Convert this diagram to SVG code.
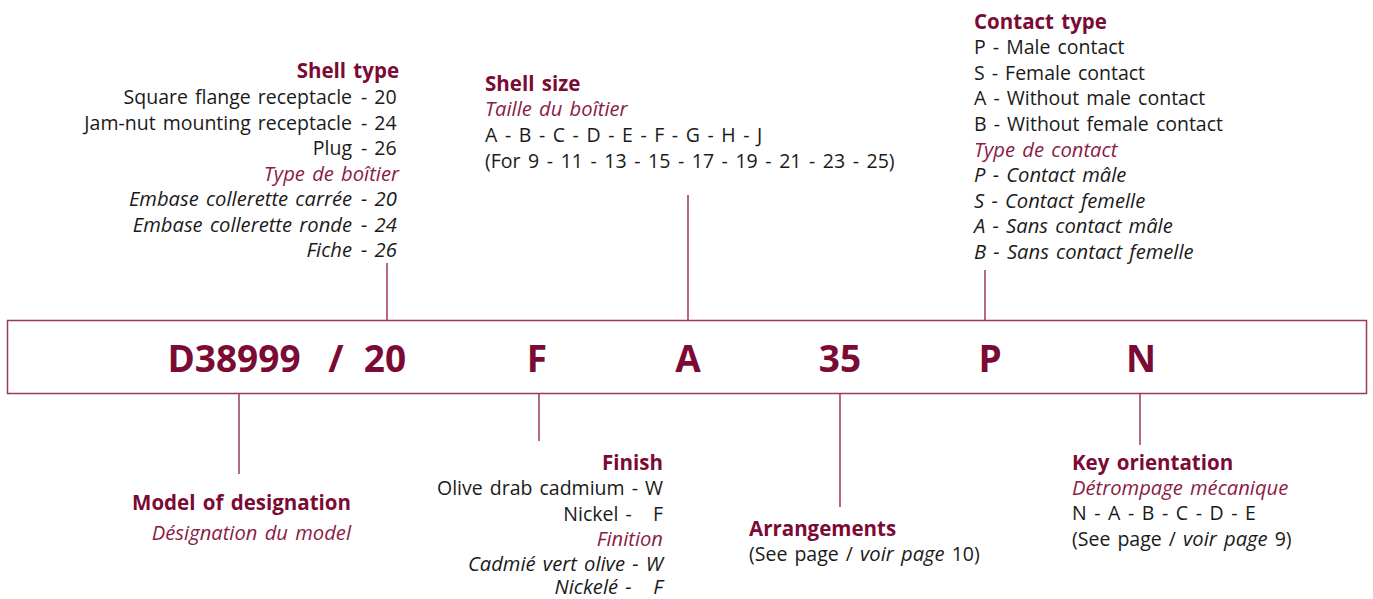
<svg xmlns="http://www.w3.org/2000/svg" width="1373" height="599" viewBox="0 0 1373 599">
<style>
text{font-family:"Open Sans","Noto Sans",sans-serif;font-size:19.5px;fill:#1a1a1a;word-spacing:2px}
.h{font-weight:bold;font-size:20.5px;fill:#7b0a35}
.fr{font-style:italic;font-size:20.2px;fill:#8a1c45}
.it{font-style:italic;font-size:20.2px}
.w{word-spacing:2.5px}
.code{font-weight:bold;font-size:37px;fill:#7b0a35;text-anchor:middle;word-spacing:0}
.e{text-anchor:end}
.ln{stroke:#8b1a40;stroke-width:1.3;fill:none}
</style>
<rect width="1373" height="599" fill="#fff"/>
<g id="connectors">
<line class="ln" x1="387" y1="263" x2="387" y2="320"/>
<line class="ln" x1="688" y1="195" x2="688" y2="320"/>
<line class="ln" x1="985" y1="270" x2="985" y2="320"/>
<line class="ln" x1="239" y1="394" x2="239" y2="474"/>
<line class="ln" x1="539" y1="394" x2="539" y2="441"/>
<line class="ln" x1="840" y1="394" x2="840" y2="507"/>
<line class="ln" x1="1140" y1="394" x2="1140" y2="445"/>
</g>
<g id="code-box">
<rect x="7.5" y="320.5" width="1359" height="73" fill="#fff" stroke="#9b3a5a" stroke-width="1.5"/>
<text class="code" x="234" y="372">D38999</text>
<text class="code" x="336" y="372">/</text>
<text class="code" x="385" y="372">20</text>
<text class="code" x="537" y="372">F</text>
<text class="code" x="688" y="372">A</text>
<text class="code" x="840" y="372">35</text>
<text class="code" x="990" y="372">P</text>
<text class="code" x="1141" y="372">N</text>
</g>
<g id="shell-type">
<text class="h e" x="399" y="78">Shell type</text>
<text class="e" x="352" y="104">Square flange receptacle</text><text x="361" y="104">- 20</text>
<text class="e" x="352" y="130">Jam-nut mounting receptacle</text><text x="361" y="130">- 24</text>
<text class="e" x="352" y="155">Plug</text><text x="361" y="155">- 26</text>
<text class="fr e" x="399" y="181">Type de boîtier</text>
<text class="it e" x="352" y="206">Embase collerette carrée</text><text class="it" x="361" y="206">- 20</text>
<text class="it e" x="352" y="232">Embase collerette ronde</text><text class="it" x="361" y="232">- 24</text>
<text class="it e" x="352" y="257">Fiche</text><text class="it" x="361" y="257">- 26</text>
</g>
<g id="shell-size">
<text class="h" x="485" y="91">Shell size</text>
<text class="fr" x="485" y="116">Taille du boîtier</text>
<text class="w" x="485" y="142">A - B - C - D - E - F - G - H - J</text>
<text class="w" x="485" y="168">(For 9 - 11 - 13 - 15 - 17 - 19 - 21 - 23 - 25)</text>
</g>
<g id="contact-type">
<text class="h" x="974" y="29">Contact type</text>
<text x="974" y="54">P - Male contact</text>
<text x="974" y="80">S - Female contact</text>
<text x="974" y="105">A - Without male contact</text>
<text x="974" y="131">B - Without female contact</text>
<text class="fr" x="974" y="157">Type de contact</text>
<text class="it" x="974" y="182">P - Contact mâle</text>
<text class="it" x="974" y="208">S - Contact femelle</text>
<text class="it" x="974" y="233">A - Sans contact mâle</text>
<text class="it" x="974" y="259">B - Sans contact femelle</text>
</g>
<g id="model-designation">
<text class="h e" x="351" y="510">Model of designation</text>
<text class="fr e" x="351" y="540">Désignation du model</text>
</g>
<g id="finish">
<text class="h e" x="663" y="470">Finish</text>
<text class="e" x="663" y="495">Olive drab cadmium - W</text>
<text class="e" x="663" y="521" xml:space="preserve">Nickel -   F</text>
<text class="fr e" x="663" y="546">Finition</text>
<text class="it e" x="663" y="571">Cadmié vert olive - W</text>
<text class="it e" x="663" y="594" xml:space="preserve">Nickelé -   F</text>
</g>
<g id="arrangements">
<text class="h" x="749" y="536">Arrangements</text>
<text x="749" y="561">(See page / <tspan class="it">voir page</tspan> 10)</text>
</g>
<g id="key-orientation">
<text class="h" x="1072" y="470">Key orientation</text>
<text class="fr" x="1072" y="495">Détrompage mécanique</text>
<text class="w" x="1072" y="520">N - A - B - C - D - E</text>
<text x="1072" y="546">(See page / <tspan class="it">voir page</tspan> 9)</text>
</g>
</svg>
